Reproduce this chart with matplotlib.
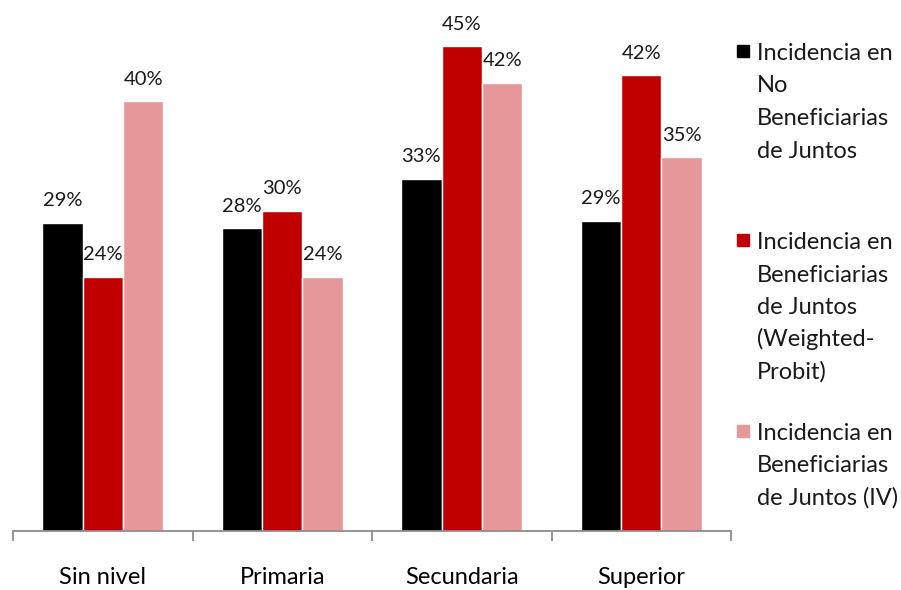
import numpy as np
import matplotlib
matplotlib.use('Agg')
import matplotlib.pyplot as plt
from matplotlib.patches import Rectangle

plt.rcParams['font.family'] = ['Lato', 'DejaVu Sans']

categorias = ['Sin nivel', 'Primaria', 'Secundaria', 'Superior']
no_benef = [28.6, 28.1, 32.7, 28.8]
benef_probit = [23.6, 29.7, 45.0, 42.3]
benef_iv = [39.9, 23.6, 41.6, 34.7]

series = [no_benef, benef_probit, benef_iv]
colores = ['#000000', '#C00000', '#E6979A']
etiquetas = [['Incidencia en', 'No', 'Beneficiarias', 'de Juntos'],
             ['Incidencia en', 'Beneficiarias', 'de Juntos', '(Weighted-', 'Probit)'],
             ['Incidencia en', 'Beneficiarias', 'de Juntos (IV)']]

fig = plt.figure(figsize=(9.01, 5.90), dpi=100)
W, H = 901, 590
# ejes: x de 13 a 731 px, base en y=531 px
ax = fig.add_axes([13 / W, (H - 531) / H, (731 - 13) / W, (531 - 14) / H])

x = np.arange(len(categorias))
ancho = 0.225
for i, (vals, col) in enumerate(zip(series, colores)):
    pos = x + (i - 1) * ancho
    barras = ax.bar(pos, vals, width=ancho, color=col, edgecolor='white', linewidth=1)
    for b, v in zip(barras, vals):
        ax.annotate('%d%%' % round(v), (b.get_x() + b.get_width() / 2, v),
                    xytext=(0, 12), textcoords='offset points',
                    ha='center', va='baseline', fontsize=14.5, color='#1a1a1a')

ax.set_xlim(-0.5, 3.5)
ax.set_ylim(0, 48)
for s in ['top', 'right', 'left']:
    ax.spines[s].set_visible(False)
ax.spines['bottom'].set_color('#8c8c8c')
ax.spines['bottom'].set_linewidth(1.3)
ax.set_yticks([])
ax.set_xticks(x)
ax.set_xticklabels(categorias, fontsize=17)
ax.tick_params(axis='x', which='major', length=0, pad=26)
ax.set_xticks(np.arange(-0.5, 4, 1), minor=True)
ax.tick_params(axis='x', which='minor', length=7, color='#8c8c8c', width=1.3)

# leyenda manual, linea por linea
bases = [60, 249, 440]
paso = 32.5
for lineas, col, yb in zip(etiquetas, colores, bases):
    for k, txt in enumerate(lineas):
        fig.text(757 / W, (H - yb - k * paso) / H, txt, fontsize=17,
                 va='baseline', ha='left', color='#1a1a1a')
    fig.patches.append(Rectangle((737 / W, (H - yb + 3) / H), 12 / W, 12 / H,
                                 transform=fig.transFigure, color=col))

fig.savefig('out.png', dpi=100)
